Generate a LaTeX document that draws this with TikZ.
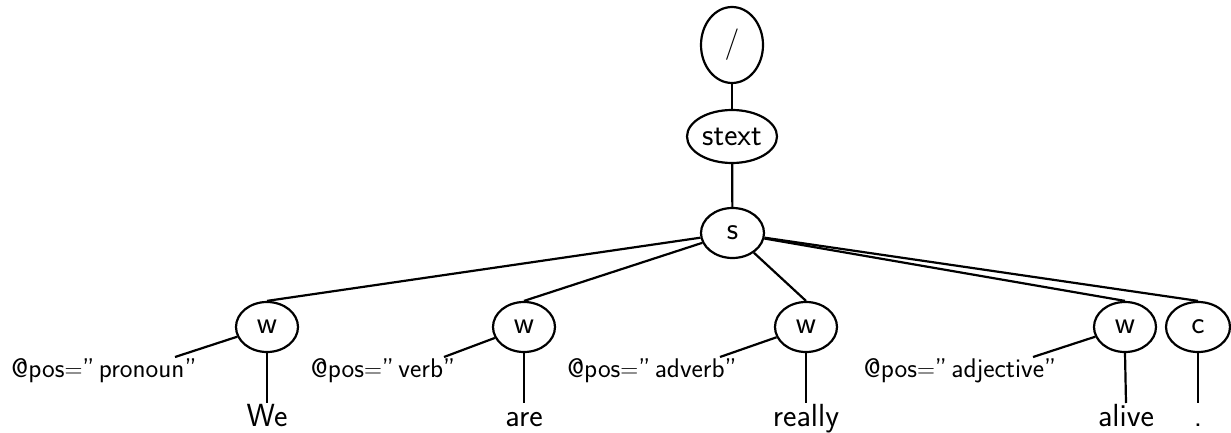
\documentclass[tikz,border=0pt]{standalone}
\usetikzlibrary{shapes.geometric}
\newcommand{\nodefont}{\sffamily\fontsize{31.5}{36}\selectfont}
\newcommand{\wordfont}{\sffamily\fontsize{32}{38}\selectfont}
\newcommand{\attrfont}{\sffamily\fontsize{27}{32}\selectfont}
\tikzset{
  tnode/.style={ellipse, draw, line width=2.2pt, inner sep=0pt, font=\nodefont},
  word/.style={anchor=base, font=\wordfont, inner sep=0pt},
  attr/.style={anchor=base, font=\attrfont, inner sep=0pt},
  branch/.style={line width=2.2pt},
}
\begin{document}
\begin{tikzpicture}[x=1pt, y=-1pt]
  \useasboundingbox (0,0) rectangle (1231,433);

  % element nodes
  \node[tnode, minimum width=62pt, minimum height=76pt] (root) at (732,45) {/};
  \node[tnode, minimum width=90pt, minimum height=53pt] (stext) at (732,136.5) {stext};
  \node[tnode, minimum width=63pt, minimum height=50pt] (s) at (732.5,233) {s};
  \node[tnode, minimum width=62pt, minimum height=50pt] (w1) at (267,327) {w};
  \node[tnode, minimum width=62pt, minimum height=50pt] (w2) at (524,327) {w};
  \node[tnode, minimum width=62pt, minimum height=50pt] (w3) at (806,327) {w};
  \node[tnode, minimum width=62pt, minimum height=50pt] (w4) at (1125,327) {w};
  \node[tnode, minimum width=64pt, minimum height=50pt] (c) at (1198,327) {c};

  % attribute labels
  \node[attr] (a1) at (104,377) {@pos$=$''\,pronoun''};
  \node[attr] (a2) at (383,377) {@pos$=$''\,verb''};
  \node[attr] (a3) at (652,377) {@pos$=$''\,adverb''};
  \node[attr] (a4) at (960,377) {@pos$=$''\,adjective''};
  \coordinate (a1end) at (175,357);
  \coordinate (a2end) at (444,357);
  \coordinate (a3end) at (720,357);
  \coordinate (a4end) at (1033,357);

  % text content
  \node[word] (t1) at (267,426) {We};
  \node[word] (t2) at (524,426) {are};
  \node[word] (t3) at (806,426) {really};
  \node[word] (t4) at (1126,426) {alive};
  \node[word] (t5) at (1198,426) {.};
  \coordinate (t1top) at (267,403);
  \coordinate (t2top) at (524,403);
  \coordinate (t3top) at (806,403);
  \coordinate (t4top) at (1126,403);
  \coordinate (t5top) at (1198,403);

  % tree branches
  \draw[branch] (root) -- (stext);
  \draw[branch] (stext) -- (s);
  \draw[branch] (s) -- (w1.north);
  \draw[branch] (s) -- (w2.north);
  \draw[branch] (s) -- (w3.north);
  \draw[branch] (s) -- (w4.north);
  \draw[branch] (s) -- (c.north);

  \draw[branch] (w1) -- (a1end);
  \draw[branch] (w2) -- (a2end);
  \draw[branch] (w3) -- (a3end);
  \draw[branch] (w4) -- (a4end);

  \draw[branch] (w1.south) -- (t1top);
  \draw[branch] (w2.south) -- (t2top);
  \draw[branch] (w3.south) -- (t3top);
  \draw[branch] (w4.south) -- (t4top);
  \draw[branch] (c.south) -- (t5top);
\end{tikzpicture}
\end{document}
